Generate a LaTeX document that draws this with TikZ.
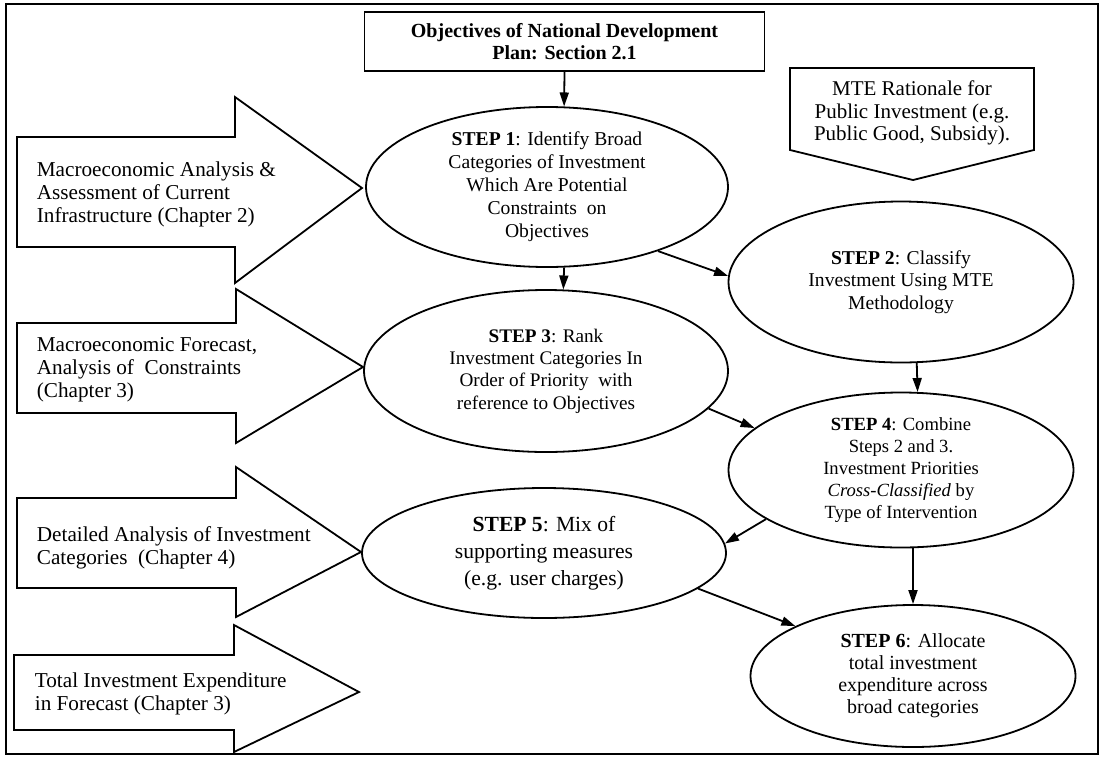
\documentclass[tikz,border=0pt]{standalone}
\usepackage{fontspec}
\setmainfont{Liberation Serif}
\usetikzlibrary{arrows.meta, shapes.geometric}

\begin{document}
\begin{tikzpicture}[x=0.5pt, y=-0.5pt, line width=0.9pt,
    font=\fontsize{10}{11}\selectfont,
    >={Triangle[length=7pt, width=4.5pt]},
    stage/.style = {draw, ellipse, align=center, inner sep=0pt},
    srctext/.style = {align=left, anchor=west, inner sep=0pt, font=\fontsize{10.6}{11.5}\selectfont}]
    \useasboundingbox (0,0) rectangle (1103,761);
    \draw (6,4) rectangle (1098,754);

    % inputs on the left
    \draw (17,137) -- (235,137) -- (235,97) -- (362,188) -- (235,283) -- (235,247) -- (17,247) -- cycle;
    \draw (17,323) -- (236,323) -- (236,289) -- (363,367) -- (236,443) -- (236,413) -- (17,413) -- cycle;
    \draw (17,498) -- (236,498) -- (236,467) -- (361,552) -- (236,617) -- (236,588) -- (17,588) -- cycle;
    \draw (14,655) -- (234,655) -- (234,625) -- (359,692) -- (234,752) -- (234,730) -- (14,730) -- cycle;
    \node[srctext] (src1) at (36,194) {Macroeconomic Analysis \&\\Assessment of Current\\Infrastructure (Chapter 2)};
    \node[srctext] (src2) at (36,370) {Macroeconomic Forecast,\\Analysis of~ Constraints\\(Chapter 3)};
    \node[srctext] (src3) at (36,548) {Detailed Analysis of Investment\\Categories~ (Chapter 4)};
    \node[srctext] (src4) at (34,694) {Total Investment Expenditure\\in Forecast (Chapter 3)};

    % objectives and rationale
    \node[draw, align=center, minimum width=200pt, minimum height=29.5pt, font=\fontsize{10}{11}\selectfont\bfseries] (plan) at (564.5,41.5) {Objectives of National Development\\Plan: Section 2.1};
    \draw (790,68) -- (1034,68) -- (1034,150) -- (913,180) -- (790,150) -- cycle;
    \node[align=center, font=\fontsize{10.5}{11.2}\selectfont] (mte) at (912,113) {MTE Rationale for\\Public Investment (e.g.\\Public Good, Subsidy).};

    % the six steps
    \node[stage, minimum width=181pt, minimum height=80pt, font=\fontsize{9.8}{11.5}\selectfont] (s1) at (547,187) {\textbf{STEP 1}: Identify Broad\\Categories of Investment\\Which Are Potential\\Constraints~ on\\Objectives};
    \node[stage, minimum width=172.5pt, minimum height=80.5pt, font=\fontsize{9.8}{11.2}\selectfont] (s2) at (901,282) {\textbf{STEP 2}: Classify\\Investment Using MTE\\Methodology};
    \node[stage, minimum width=182pt, minimum height=81pt, font=\fontsize{9.6}{11.2}\selectfont] (s3) at (546,371) {\textbf{STEP 3}: Rank\\Investment Categories In\\Order of Priority~ with\\reference to Objectives};
    \node[stage, minimum width=172.5pt, minimum height=77.5pt, font=\fontsize{9.3}{11}\selectfont] (s4) at (901,470) {\textbf{STEP 4}: Combine\\Steps 2 and 3.\\Investment Priorities\\\textit{Cross-Classified} by\\Type of Intervention};
    \node[stage, minimum width=182pt, minimum height=65pt, font=\fontsize{10.8}{13.5}\selectfont] (s5) at (544,553) {\textbf{STEP 5}: Mix of\\supporting measures\\(e.g. user charges)};
    \node[stage, minimum width=162.5pt, minimum height=71pt, font=\fontsize{10}{11}\selectfont] (s6) at (913,676) {\textbf{STEP 6}: Allocate\\total investment\\expenditure across\\broad categories};

    \draw[->] (plan.south) -- (s1.78);
    \draw[->] (s1.-78) -- (s3.78);
    \draw[->] (s1.-30) -- (s2.178);
    \draw[->] (s2.-79) -- (s4.78);
    \draw[->] (s3.-13) -- (s4.164);
    \draw[->] (s4.-160) -- (s5.3);
    \draw[->] (s5.-13) -- (s6.157);
    \draw[->] (s4.south -| s6.north) -- (s6.north);
\end{tikzpicture}
\end{document}
